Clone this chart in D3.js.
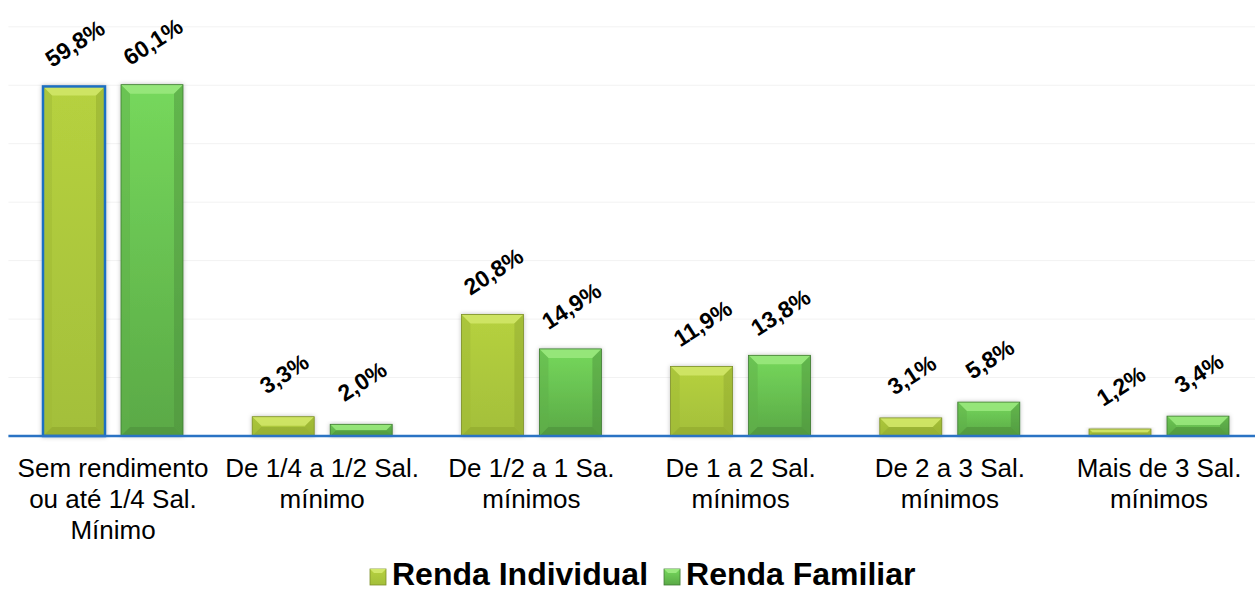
<!DOCTYPE html>
<html><head><meta charset="utf-8">
<script src="https://cdn.jsdelivr.net/npm/d3@7"></script>
<style>body{margin:0;background:#fff}svg{display:block}text{font-family:"Liberation Sans",Arial,sans-serif}</style>
</head><body><svg id="c" width="1255" height="592"></svg>
<script>
const categories = [
  ["Sem rendimento","ou até 1/4 Sal.","Mínimo"],
  ["De 1/4 a 1/2 Sal.","mínimo"],
  ["De 1/2 a 1 Sa.","mínimos"],
  ["De 1 a 2 Sal.","mínimos"],
  ["De 2 a 3 Sal.","mínimos"],
  ["Mais de 3 Sal.","mínimos"]
];
const seriesNames = ["Renda Individual","Renda Familiar"];
const individual = [59.8, 3.3, 20.8, 11.9, 3.1, 1.2];
const familiar = [60.1, 2.0, 14.9, 13.8, 5.8, 3.4];
const yTicks = [0,10,20,30,40,50,60,70];

const svg = d3.select("#c");
const W = 1255, H = 592;
const plotLeft = 8.4, plotRight = 1263.6, plotTop = 26.8, base = 436;
const x = d3.scaleBand().domain(d3.range(categories.length)).range([plotLeft, plotRight]).paddingInner(0).paddingOuter(0);
const y = d3.scaleLinear().domain([0,70]).range([base, plotTop]);
const bw = x.bandwidth();
const xs = d3.scaleBand().domain([0,1]).range([bw/2-70, bw/2+70]).paddingInner(0.205).paddingOuter(0);

const defs = svg.append("defs");
const pal = [
  {top:"#b6d13f", bot:"#a3bf3a", light:"#d2e86a", dark:"#8fa62f", side:"#9fb935", edge:"#7d8f2a"},
  {top:"#76d85c", bot:"#5aa946", light:"#9be97f", dark:"#4c8f3b", side:"#5fb04a", edge:"#3f7a33"}
];
pal.forEach((p,i)=>{
  const g = defs.append("linearGradient").attr("id","g"+i).attr("x1",0).attr("y1",0).attr("x2",0).attr("y2",1);
  g.append("stop").attr("offset","0%").attr("stop-color",p.top);
  g.append("stop").attr("offset","100%").attr("stop-color",p.bot);
});
const f = defs.append("filter").attr("id","sh").attr("x","-20%").attr("y","-20%").attr("width","140%").attr("height","140%");
f.append("feDropShadow").attr("dx",0).attr("dy",0).attr("stdDeviation",2).attr("flood-color","#000").attr("flood-opacity",0.25);

// gridlines
svg.append("g").selectAll("line").data(yTicks.slice(1)).join("line")
  .attr("x1",plotLeft).attr("x2",W).attr("y1",d=>y(d)).attr("y2",d=>y(d))
  .attr("stroke","#f2f2f2").attr("stroke-width",1);

const data = [];
categories.forEach((c,i)=>{
  [individual[i], familiar[i]].forEach((v,s)=>data.push({i,s,v}));
});

const bars = svg.append("g").selectAll("g").data(data).join("g").attr("filter","url(#sh)");
bars.each(function(d){
  const g = d3.select(this);
  const x0 = x(d.i) + xs(d.s), w = xs.bandwidth();
  const y0 = y(d.v), h = base - y0;
  const b = Math.min(9, h/2, w/2);
  const p = pal[d.s];
  const x1 = x0 + w, y1 = base;
  g.append("rect").attr("x",x0).attr("y",y0).attr("width",w).attr("height",h).attr("fill","url(#g"+d.s+")");
  g.append("polygon").attr("points",[[x0,y0],[x1,y0],[x1-b,y0+b],[x0+b,y0+b]].join(" ")).attr("fill",p.light).attr("opacity",0.85);
  g.append("polygon").attr("points",[[x0,y1],[x1,y1],[x1-b,y1-b],[x0+b,y1-b]].join(" ")).attr("fill",p.dark).attr("opacity",0.6);
  g.append("polygon").attr("points",[[x0,y0],[x0+b,y0+b],[x0+b,y1-b],[x0,y1]].join(" ")).attr("fill",p.side).attr("opacity",0.5);
  g.append("polygon").attr("points",[[x1,y0],[x1-b,y0+b],[x1-b,y1-b],[x1,y1]].join(" ")).attr("fill",p.dark).attr("opacity",0.45);
  g.append("rect").attr("x",x0).attr("y",y0).attr("width",w).attr("height",h).attr("fill","none")
    .attr("stroke", (d.i===0 && d.s===0) ? "#1f6fc1" : p.edge).attr("stroke-width",(d.i===0 && d.s===0)?2.5:0.8);
});

// axis baseline
svg.append("line").attr("x1",plotLeft).attr("x2",W).attr("y1",base).attr("y2",base).attr("stroke","#2a73c4").attr("stroke-width",2.5);

// data labels
svg.append("g").selectAll("text").data(data).join("text")
  .attr("transform",d=>`translate(${x(d.i)+xs(d.s)+xs.bandwidth()/2+1},${y(d.v)-43}) rotate(-33)`)
  .attr("text-anchor","middle").attr("dominant-baseline","central")
  .attr("font-size",23).attr("font-weight","bold").attr("fill","#000")
  .text(d=>d3.format(".1f")(d.v).replace(".",",")+"%");

// category labels
const cat = svg.append("g").selectAll("text").data(categories).join("text")
  .attr("x",(d,i)=>x(i)+bw/2).attr("y",477)
  .attr("text-anchor","middle").attr("font-size",26).attr("fill","#000");
cat.selectAll("tspan").data(d=>d).join("tspan")
  .attr("x",function(){return d3.select(this.parentNode).attr("x");})
  .attr("dy",(d,j)=>j===0?0:31).text(d=>d);

// legend
const leg = svg.append("g");
let lxPos = 370;
seriesNames.forEach((n,s)=>{
  const p = pal[s];
  const gx = lxPos, gy = 569, sz = 16;
  leg.append("rect").attr("x",gx).attr("y",gy).attr("width",sz).attr("height",sz).attr("fill","url(#g"+s+")").attr("stroke",p.edge).attr("stroke-width",0.8);
  leg.append("polygon").attr("points",[[gx,gy],[gx+sz,gy],[gx+sz-4,gy+4],[gx+4,gy+4]].join(" ")).attr("fill",p.light);
  const t = leg.append("text").attr("x",gx+22).attr("y",585).attr("font-size",32).attr("font-weight","bold").attr("fill","#000").text(n);
  lxPos = gx + 22 + t.node().getComputedTextLength() + 16;
});
</script></body></html>
